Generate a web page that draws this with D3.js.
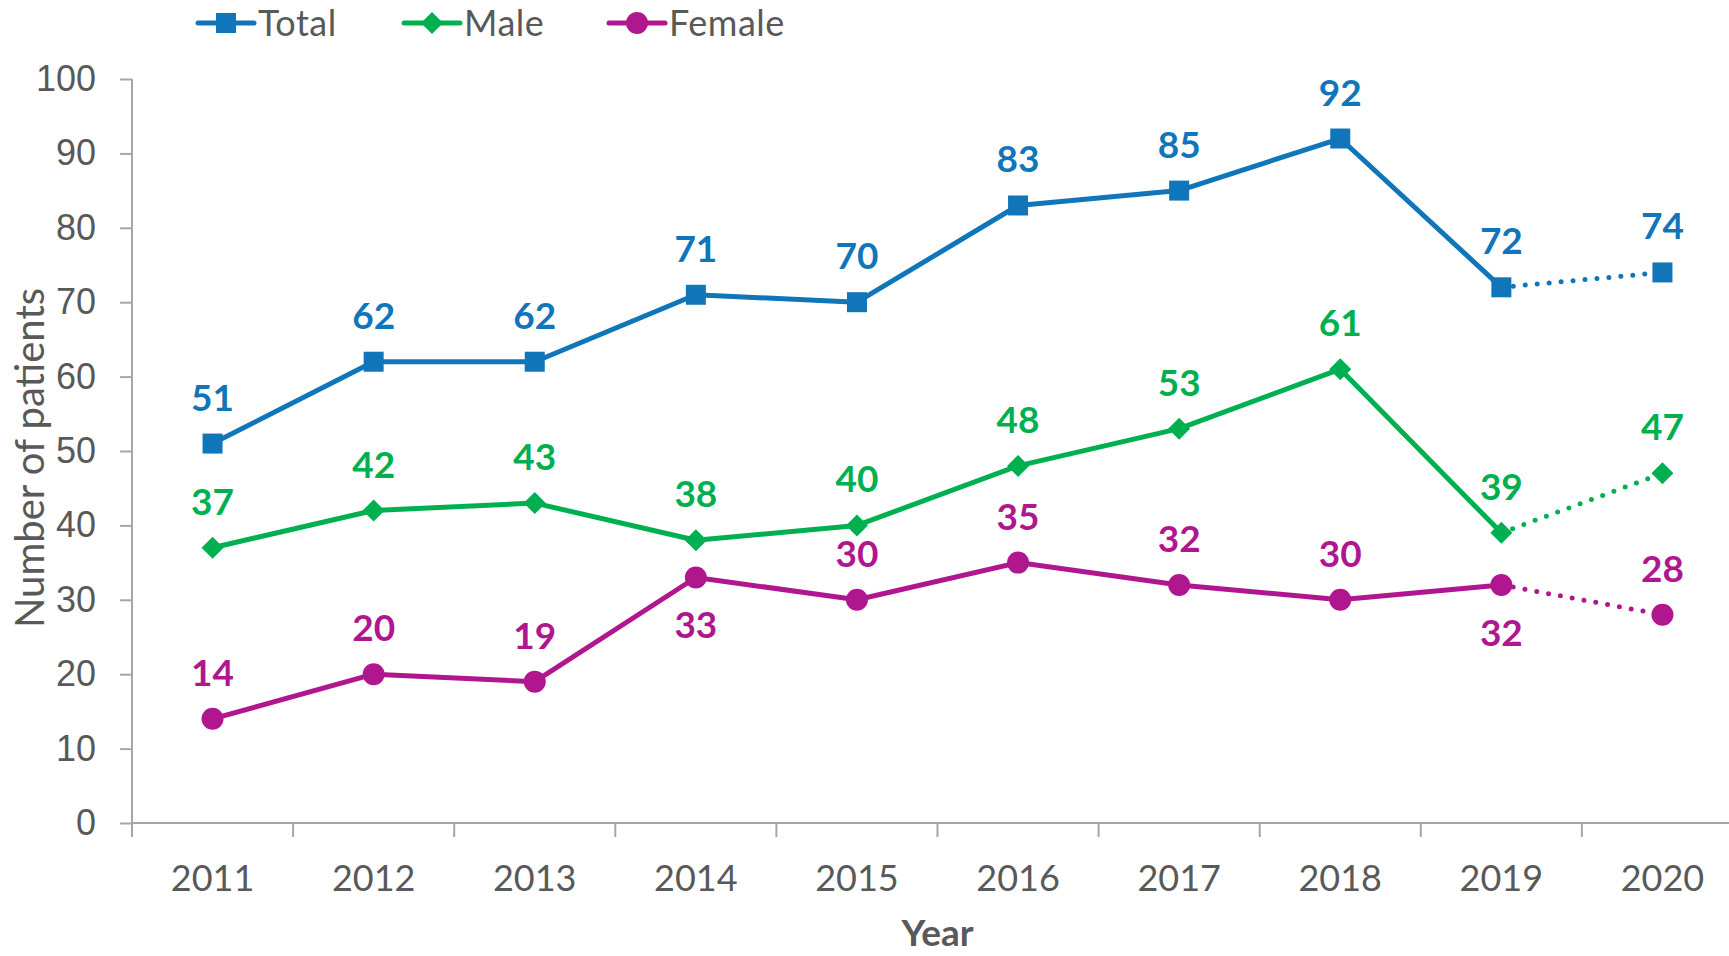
<!DOCTYPE html>
<html>
<head>
<meta charset="utf-8">
<script src="https://cdn.jsdelivr.net/npm/d3@7"></script>
<style>
  body { margin: 0; background: #fff; }
  svg { display: block; font-family: Lato, "Open Sans", sans-serif; }
</style>
</head>
<body>
<div id="chart"></div>
<script>
// chart data
const years = ["2011", "2012", "2013", "2014", "2015", "2016", "2017", "2018", "2019", "2020"];
const total = [51, 62, 62, 71, 70, 83, 85, 92, 72, 74];
const male = [37, 42, 43, 38, 40, 48, 53, 61, 39, 47];
const female = [14, 20, 19, 33, 30, 35, 32, 30, 32, 28];
// which female labels sit under the point
const femaleBelow = [false, false, false, true, false, false, false, false, true, false];
const yTicks = [0, 10, 20, 30, 40, 50, 60, 70, 80, 90, 100];

const width = 1729, height = 956;
const margin = {top: 79, left: 132, bottom: 133};
const plotRight = 1743;

let svg = d3.select("#chart").append("svg")
    .attr("width", width)
    .attr("height", height);

let x = d3.scaleBand()
    .domain(years)
    .range([margin.left, plotRight])
    .padding(0);

let y = d3.scaleLinear()
    .domain([0, 100])
    .range([height - margin.bottom, margin.top]);

const axisColor = "#a6a6a6";
const textColor = "#595959";

// y axis
let yAxis = svg.append("g")
    .attr("transform", "translate(" + margin.left + ",0)")
    .call(d3.axisLeft(y).tickValues(yTicks).tickSize(12).tickPadding(24));
yAxis.select(".domain").attr("stroke", axisColor).attr("stroke-width", 2)
    .attr("d", "M0," + y(100) + "V" + y(0));
yAxis.selectAll(".tick line").attr("stroke", axisColor).attr("stroke-width", 2);
yAxis.selectAll(".tick text")
    .attr("fill", textColor)
    .style("font-size", "36px");

// x axis, ticks at band edges
let xAxis = svg.append("g")
    .attr("transform", "translate(0," + y(0) + ")");
xAxis.append("line")
    .attr("x1", margin.left).attr("x2", plotRight)
    .attr("stroke", axisColor).attr("stroke-width", 2);
let edges = years.map(d => x(d)).concat([plotRight]);
xAxis.selectAll(".edge")
    .data(edges)
    .enter().append("line")
    .attr("class", "edge")
    .attr("x1", d => d).attr("x2", d => d)
    .attr("y1", 0).attr("y2", 14)
    .attr("stroke", axisColor).attr("stroke-width", 2);
xAxis.selectAll(".xlabel")
    .data(years)
    .enter().append("text")
    .attr("class", "xlabel")
    .attr("x", d => x(d) + x.bandwidth() / 2)
    .attr("y", 68)
    .attr("text-anchor", "middle")
    .attr("fill", textColor)
    .style("font-size", "36px")
    .text(d => d);

// axis titles
svg.append("text")
    .attr("transform", "translate(44,458) rotate(-90)")
    .attr("text-anchor", "middle")
    .attr("fill", textColor)
    .style("font-size", "40px")
    .text("Number of patients");

svg.append("text")
    .attr("x", (margin.left + plotRight) / 2)
    .attr("y", 946)
    .attr("text-anchor", "middle")
    .attr("fill", textColor)
    .style("font-size", "37px")
    .style("font-weight", "bold")
    .text("Year");

const series = [
    {name: "Total", values: total, color: "#1175ba", shape: "square"},
    {name: "Male", values: male, color: "#00b050", shape: "diamond"},
    {name: "Female", values: female, color: "#b0178f", shape: "circle"}
];

function drawMarker(g, shape, color) {
    if (shape === "square") {
        g.append("rect").attr("x", -10).attr("y", -10).attr("width", 20).attr("height", 20).attr("fill", color);
    } else if (shape === "diamond") {
        g.append("path").attr("d", "M0,-11L11,0L0,11L-11,0Z").attr("fill", color);
    } else {
        g.append("circle").attr("r", 11).attr("fill", color);
    }
}

let cx = (d, i) => x(years[i]) + x.bandwidth() / 2;
let line = d3.line().x((d, i) => cx(d, i)).y(d => y(d));

series.forEach(function(s) {
    let g = svg.append("g");
    let solid = s.values.slice(0, 9);
    g.append("path")
        .datum(solid)
        .attr("d", line)
        .attr("fill", "none")
        .attr("stroke", s.color)
        .attr("stroke-width", 5)
        .attr("stroke-linejoin", "round");

    // last year is dotted
    g.append("line")
        .attr("x1", cx(null, 8)).attr("y1", y(s.values[8]))
        .attr("x2", cx(null, 9)).attr("y2", y(s.values[9]))
        .attr("stroke", s.color)
        .attr("stroke-width", 5)
        .attr("stroke-linecap", "round")
        .attr("stroke-dasharray", "0 12");

    s.values.forEach(function(v, i) {
        let m = g.append("g").attr("transform", "translate(" + cx(v, i) + "," + y(v) + ")");
        drawMarker(m, s.shape, s.color);
    });

    g.selectAll(".lbl")
        .data(s.values)
        .enter().append("text")
        .attr("class", "lbl")
        .attr("x", (d, i) => cx(d, i))
        .attr("y", function(d, i) {
            if (s.name === "Female" && femaleBelow[i]) return y(d) + 61;
            return y(d) - 33;
        })
        .attr("text-anchor", "middle")
        .attr("fill", s.color)
        .style("font-size", "37px")
        .style("font-weight", "bold")
        .text(d => d);
});

// legend
let legendX = [198, 404, 609];
let legend = svg.append("g");
series.forEach(function(s, i) {
    let lg = legend.append("g").attr("transform", "translate(" + legendX[i] + ",23)");
    lg.append("line")
        .attr("x1", 0).attr("x2", 56)
        .attr("stroke", s.color).attr("stroke-width", 5)
        .attr("stroke-linecap", "round");
    let m = lg.append("g").attr("transform", "translate(28,0)");
    drawMarker(m, s.shape, s.color);
    lg.append("text")
        .attr("x", 60)
        .attr("y", 13)
        .attr("fill", textColor)
        .style("font-size", "36px")
        .style("letter-spacing", "0.5px")
        .text(s.name);
});
</script>
</body>
</html>
